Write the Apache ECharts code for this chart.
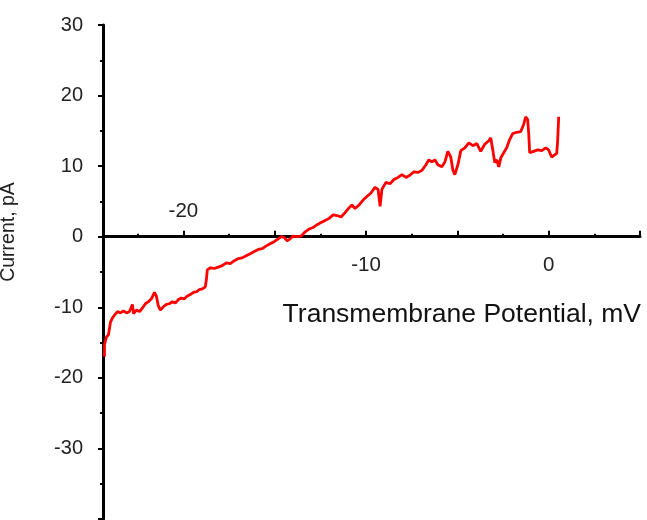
<!DOCTYPE html>
<html>
<head>
<meta charset="utf-8">
<script src="https://cdn.jsdelivr.net/npm/echarts@6/dist/echarts.min.js"></script>
<style>
  html, body { margin: 0; padding: 0; background: #fff; }
  #main { width: 647px; height: 520px; }
</style>
</head>
<body>
<div id="main"></div>
<script>
// transmembrane potential (mV) and current (pA)
var potential = [
  -24.32, -24.32, -24.21, -24.10, -23.99, -23.88, -23.77, -23.61, -23.44, -23.28,
  -23.11, -22.95, -22.79, -22.73, -22.57, -22.40, -22.24, -22.08, -21.91, -21.75,
  -21.58, -21.48, -21.37, -21.26, -21.09, -20.93, -20.77, -20.60, -20.44, -20.27,
  -20.11, -19.95, -19.78, -19.62, -19.45, -19.29, -19.13, -18.96, -18.80, -18.74,
  -18.69, -18.52, -18.31, -18.09, -17.87, -17.65, -17.43, -17.21, -16.99, -16.78,
  -16.56, -16.34, -16.12, -15.90, -15.68, -15.46, -15.25, -15.03, -14.81, -14.64,
  -14.48, -14.32, -14.15, -13.99, -13.77, -13.55, -13.33, -13.11, -12.90, -12.68,
  -12.46, -12.24, -12.02, -11.80, -11.58, -11.37, -11.15, -10.93, -10.77, -10.60,
  -10.38, -10.16, -9.95, -9.73, -9.51, -9.34, -9.23, -9.13, -8.91, -8.69,
  -8.47, -8.25, -8.03, -7.81, -7.60, -7.38, -7.16, -6.94, -6.72, -6.56,
  -6.39, -6.23, -6.07, -5.85, -5.68, -5.52, -5.36, -5.25, -5.14, -4.97,
  -4.81, -4.59, -4.37, -4.15, -3.93, -3.72, -3.50, -3.28, -3.17, -3.06,
  -2.95, -2.84, -2.73, -2.62, -2.46, -2.30, -2.13, -1.97, -1.75, -1.53,
  -1.37, -1.26, -1.15, -1.09, -1.04, -0.82, -0.60, -0.38, -0.16, 0.00,
  0.16, 0.33, 0.44, 0.49, 0.55
];
var current = [
  -17.0, -15.3, -14.2, -13.9, -12.1, -11.5, -11.1, -10.6, -10.8, -10.5,
  -10.8, -10.6, -9.6, -10.9, -10.4, -10.6, -10.1, -9.5, -9.2, -8.8,
  -7.9, -8.4, -9.8, -10.4, -9.9, -9.6, -9.5, -9.2, -9.4, -8.9,
  -8.7, -8.8, -8.4, -8.2, -7.9, -7.8, -7.5, -7.4, -7.1, -6.1,
  -4.7, -4.4, -4.5, -4.3, -4.1, -3.7, -3.8, -3.4, -3.1, -3.0,
  -2.7, -2.4, -2.1, -1.8, -1.7, -1.3, -1.0, -0.7, -0.3, 0.0,
  -0.1, -0.6, -0.3, 0.1, 0.0, 0.1, 0.7, 1.1, 1.3, 1.7,
  2.0, 2.3, 2.6, 3.1, 3.0, 2.8, 3.4, 4.1, 4.5, 4.0,
  4.5, 5.2, 5.7, 6.2, 7.0, 6.7, 4.3, 6.7, 7.7, 7.5,
  8.1, 8.4, 8.8, 8.4, 8.7, 9.2, 9.1, 9.4, 10.2, 10.9,
  10.6, 10.9, 10.2, 9.9, 10.6, 12.1, 11.3, 9.5, 8.8, 10.2,
  12.2, 12.6, 13.3, 12.9, 13.2, 12.1, 13.1, 13.6, 14.0, 12.3,
  10.5, 10.9, 9.9, 11.2, 11.9, 12.6, 13.8, 14.6, 14.8, 14.9,
  15.9, 17.0, 16.6, 14.5, 11.9, 12.1, 12.3, 12.2, 12.6, 12.3,
  11.3, 11.6, 11.8, 13.5, 17.0
];

var xMajorTicks = [-20, -15, -10, -5, 0, 5];
var xMinorTicks = [-22.5, -17.5, -12.5, -7.5, -2.5, 2.5];
var xLabelsBelow = [-10, 0];
var xLabelsAbove = [-20];
var yLabels = [-30, -20, -10, 0, 10, 20, 30];

var xMin = -24.4, xMax = 5;
var yMin = -40, yMax = 30;

var trace = potential.map(function (v, i) {
  return [v, current[i]];
});

var chart = echarts.init(document.getElementById("main"));
var font = "Liberation Sans, Arial, sans-serif";

var gridTop = 25, gridBottom = 1;
var gridHeight = 520 - gridTop - gridBottom;
// lift the x axis from the grid bottom up to current = 0
var zeroOffset = -gridHeight * (0 - yMin) / (yMax - yMin);

var option = {
  animation: false,
  grid: {
    left: 103,
    right: 7,
    top: gridTop,
    bottom: gridBottom,
    outerBoundsMode: "none"
  },
  xAxis: [
    {
      type: "value",
      min: xMin,
      max: xMax,
      position: "bottom",
      offset: zeroOffset,
      splitLine: { show: false },
      axisLine: {
        onZero: false,
        lineStyle: { color: "#000", width: 3 }
      },
      axisTick: {
        inside: true,
        length: 6,
        customValues: xMajorTicks,
        lineStyle: { color: "#000", width: 2 }
      },
      axisLabel: {
        customValues: xLabelsBelow,
        margin: 18,
        color: "#222",
        fontFamily: font,
        fontSize: 20.5
      }
    },
    {
      type: "value",
      min: xMin,
      max: xMax,
      position: "bottom",
      offset: zeroOffset,
      splitLine: { show: false },
      axisLine: { show: false, onZero: false },
      axisTick: {
        inside: true,
        length: 3,
        customValues: xMinorTicks,
        lineStyle: { color: "#000", width: 2 }
      },
      axisLabel: {
        inside: true,
        customValues: xLabelsAbove,
        margin: 15,
        color: "#222",
        fontFamily: font,
        fontSize: 20.5
      },
      name: "Transmembrane Potential, mV",
      nameLocation: "end",
      nameGap: 1,
      nameMoveOverlap: false,
      nameTextStyle: {
        color: "#111",
        fontFamily: font,
        fontSize: 26.5,
        align: "right",
        verticalAlign: "top",
        padding: [64, 0, 0, 0]
      }
    }
  ],
  yAxis: {
    type: "value",
    min: yMin,
    max: yMax,
    interval: 10,
    splitLine: { show: false },
    axisLine: {
      onZero: false,
      lineStyle: { color: "#000", width: 3 }
    },
    axisTick: {
      length: 5,
      lineStyle: { color: "#000", width: 2 }
    },
    minorTick: {
      show: true,
      splitNumber: 2,
      length: 3,
      lineStyle: { color: "#000", width: 2 }
    },
    axisLabel: {
      customValues: yLabels,
      margin: 20,
      color: "#222",
      fontFamily: font,
      fontSize: 20
    },
    name: "Current, pA",
    nameLocation: "middle",
    nameGap: 84,
    nameTextStyle: {
      color: "#222",
      fontFamily: font,
      fontSize: 19.5,
      padding: [0, 0, 0, 80]
    }
  },
  series: [
    {
      type: "line",
      xAxisIndex: 0,
      data: trace,
      symbol: "none",
      lineStyle: { color: "#ff0000", width: 2.8 }
    }
  ]
};

chart.setOption(option);
</script>
</body>
</html>
